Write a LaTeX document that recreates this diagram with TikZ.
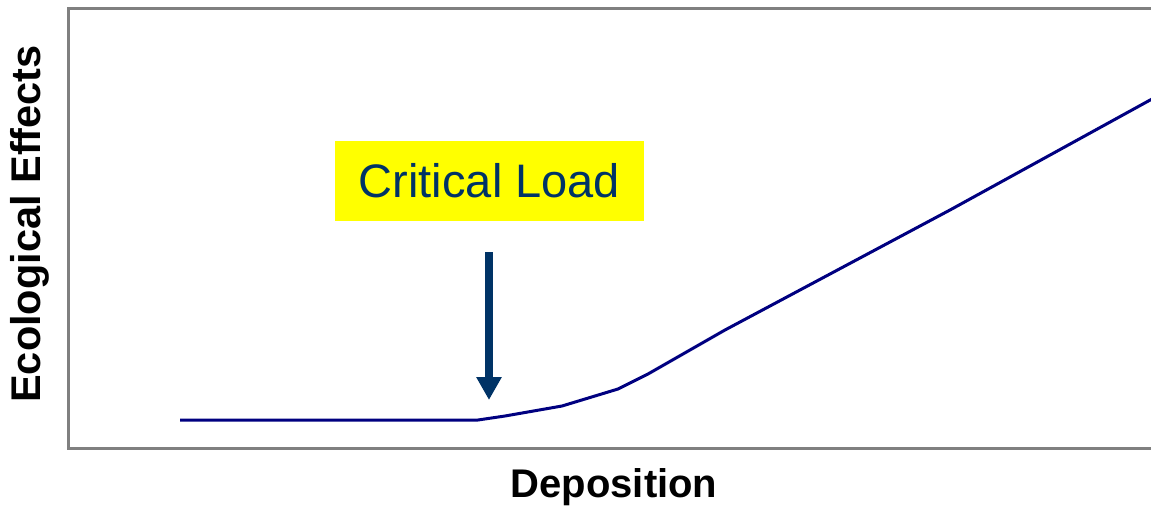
\documentclass[tikz,border=0pt]{standalone}
\usepackage{fontspec}
\setmainfont{Liberation Sans}
\usetikzlibrary{arrows.meta}
\definecolor{axisgray}{HTML}{808080}
\definecolor{curvenavy}{HTML}{000080}
\definecolor{loadblue}{HTML}{003366}
\definecolor{loadyellow}{HTML}{FFFF00}

\begin{document}
\begin{tikzpicture}[
x=1pt,y=-1pt,
axis/.style={draw=axisgray,line width=3pt},
curve/.style={draw=curvenavy,line width=3pt,line join=round},
label/.style={font=\fontsize{40}{48}\selectfont\bfseries,text=black,inner sep=0pt},
loadbox/.style={rectangle,fill=loadyellow,text=loadblue,minimum width=309pt,minimum height=80pt,inner sep=0pt,font=\fontsize{47}{56}\selectfont},
pointer/.style={draw=loadblue,line width=8pt,-{Triangle[width=24pt,length=23pt]}}
]
\useasboundingbox (0,0) rectangle (1151,509);

% Draw frame
\coordinate (tl) at (68,8);
\coordinate (bl) at (68,448);
\draw [axis] (1153,8) -- (tl) -- (bl) -- (1153,448);

% Axis labels
\node [label] (xlab) at (614,487) {Deposition};
\node [label,rotate=90,font=\fontsize{41.5}{48}\selectfont\bfseries] (ylab) at (30,224) {Ecological Effects};

% Draw response curve
\draw [curve] (180,420) -- (288,420) -- (400,420) -- (478,420) -- (505,416)
  -- (562,406) -- (618,389) -- (648,374) -- (725,330) -- (950,210) -- (1152,99);

% Critical load marker
\node [loadbox] (load) at (489.5,181) {Critical Load};
\coordinate (ptop) at (489,252);
\coordinate (ptip) at (489,400);
\draw [pointer] (ptop) -- (ptip);

\end{tikzpicture}
\end{document}
